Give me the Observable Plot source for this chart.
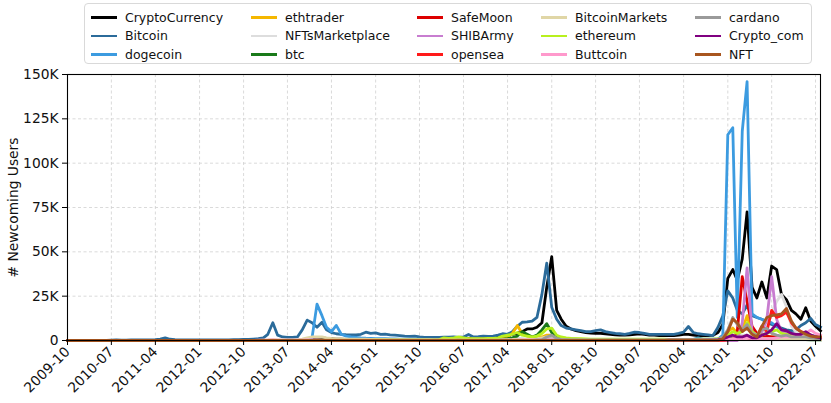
<!DOCTYPE html>
<html>
<head>
<meta charset="utf-8">
<script src="https://cdn.jsdelivr.net/npm/d3@7"></script>
<script src="https://cdn.jsdelivr.net/npm/@observablehq/plot@0.6"></script>
<style>
  html, body { margin: 0; padding: 0; background: #fff; }
  #wrap { position: relative; width: 831px; height: 403px; font-family: "DejaVu Sans", sans-serif; }
  #legend {
    position: absolute; left: 84px; top: 3px; width: 728px; height: 61px;
    box-sizing: border-box; border: 1px solid #d9d9d9; border-radius: 4px;
    background: rgba(255,255,255,0.85);
    display: grid; grid-template-columns: 160px 166px 124px 154px auto;
    grid-template-rows: 18.5px 18.5px 18.5px; grid-auto-flow: column;
    padding: 4px 0 0 6px; font-size: 12.5px; color: #111; z-index: 2;
  }
  .item { display: flex; align-items: center; white-space: nowrap; }
  .sw { width: 26px; height: 2.5px; margin-right: 8px; flex: none; }
</style>
</head>
<body>
<div id="wrap"><div id="legend"></div></div>
<script>
// ---- Data (values in thousands of newcoming users, monthly) ----
const seriesNames = ["CryptoCurrency","Bitcoin","dogecoin","ethtrader","NFTsMarketplace","btc","SafeMoon","SHIBArmy","opensea","BitcoinMarkets","ethereum","Buttcoin","cardano","Crypto_com","NFT"];
const seriesColors = ["#000000","#2b6b9a","#3c9be0","#f5b700","#dddddd","#1a7a1a","#dd0000","#c87dd0","#ff1a1a","#e0d6a6","#b8f01e","#ff99cc","#9a9a9a","#800080","#a8561f"];
const firstMonth = "2009-10";
const lastMonth = "2022-08";
const xTickLabels = ["2009-10","2010-07","2011-04","2012-01","2012-10","2013-07","2014-04","2015-01","2015-10","2016-07","2017-04","2018-01","2018-10","2019-07","2020-04","2021-01","2021-10","2022-07"];
const yTicks = [0,25,50,75,100,125,150];

const startCryptoCurrency = "2013-01";
const valCryptoCurrency = [
 0,0,0,0,0,0,0,0,0,0.3,0.8,1.0,
 1.5,1.5,1.2,1.0,0.8,0.7,0.6,0.6,0.6,0.6,0.6,0.6,
 0.6,0.6,0.6,0.6,0.6,0.6,0.6,0.6,0.6,0.6,0.6,0.7,
 0.8,0.8,0.9,1.0,1.0,1.0,1.2,1.2,1.2,1.3,1.5,1.8,
 2.0,2.2,2.5,2.5,3.5,4,5,6.5,6.5,7.5,10,30,
 47.3,17,12,8,6.5,5.5,5,4.5,4.2,4,4,3.8,
 3.5,3.2,3,3,3.2,3.5,3.8,3.5,3,3,2.8,2.8,
 2.8,2.8,3.0,3.5,3.5,3.0,2.8,2.8,2.8,3,4.5,9,
 35,40,34,46,72.5,30,24,33,24,42,40,26,
 23,17,15,12,18.5,11,8,5.5];

const startBitcoin = "2009-10";
const valBitcoin = [
 0,0,0,
 0.05,0.05,0.05,0.05,0.1,0.1,0.2,0.3,0.2,0.2,0.3,0.3,
 0.3,0.3,0.4,0.5,0.8,1.5,0.7,0.5,0.4,0.3,0.3,0.3,
 0.3,0.3,0.3,0.4,0.4,0.4,0.4,0.5,0.5,0.6,0.6,0.8,
 1.0,1.5,3.5,10,3,2,1.8,1.8,2.0,6,11.5,10,
 7.5,10.3,6,4.5,3.8,3.5,3.3,3.2,3.2,3.5,4.7,4.0,
 4.3,3.5,3.6,3.2,3.0,2.8,2.5,2.3,2.5,2.0,1.8,1.8,
 1.8,1.8,1.9,1.9,2.0,1.8,2.0,3.4,2.0,2.2,2.5,2.3,
 2.5,3.0,3.8,3.5,5,8,10.3,10.5,10.9,13,26,43.6,
 18.8,12,8.4,7,6.5,6,5.5,5,5,5.5,6,5,
 4.5,4,3.8,3.5,4.0,4.7,4.5,4,3.5,3.5,3.5,3.5,
 3.5,3.5,4.0,4.7,7.9,4.5,3.8,3.5,3.2,2.8,7.5,14,
 28,24,17,15,20,14,13,12,10,9,8,7,
 6,5.5,6,8.5,10,12.5,9,7.5];

const startDogecoin = "2013-12";
const valDogecoin = [
 1.5,
 20.5,14,7.5,5,8.5,3.5,2.5,2,1.8,1.5,1.3,1.2,
 1.1,1.0,1.0,0.9,0.9,0.8,0.8,0.7,0.7,0.7,0.6,0.6,
 0.6,0.6,0.5,0.5,0.5,0.5,0.5,0.5,0.5,0.5,0.5,0.5,
 0.5,0.5,0.5,0.5,0.6,0.8,0.7,0.6,0.6,0.6,0.8,1.5,
 2,1,0.8,0.6,0.5,0.5,0.5,0.5,0.5,0.5,0.5,0.5,
 0.5,0.5,0.5,0.5,0.5,0.5,0.5,0.5,0.5,0.5,0.5,0.5,
 0.5,0.5,0.5,0.5,0.6,0.6,1.5,0.8,0.7,0.7,0.8,3,
 116,120,13,118,146,15,13,12,11,10,8,6,
 5,4,3.5,4,4.5,3,2.5,2];

const startEthtrader = "2016-02";
const valEthtrader = [
 0.3,0.5,0.5,0.5,0.7,0.8,1.0,0.8,0.8,0.8,0.8,
 0.8,1.0,1.5,2.0,4,8.5,4,2.5,2,2,2,3,
 3,1.5,1.0,0.8,0.7,0.6,0.5,0.5,0.4,0.4,0.4,0.4,
 0.3,0.3,0.3,0.3,0.3,0.3,0.3,0.3,0.3,0.3,0.3,0.3,
 0.3,0.3,0.3,0.3,0.3,0.3,0.3,0.4,0.4,0.4,0.5,1,
 5,7,4,6,14,4,2,2,2,2,2,1.5,
 1.2,1,1,1,1,0.8,0.6,0.5];

const startNFTsMarketplace = "2021-01";
const valNFTsMarketplace = [
 0.5,1,2,3,3,2,2,3,8,16,22,26,
 19,8,5,4,3,2,2,1];

const startBtc = "2015-01";
const valBtc = [
 0.2,0.2,0.2,0.2,0.2,0.2,0.2,0.2,0.2,0.2,0.2,0.2,
 0.3,0.3,0.3,0.3,0.3,0.3,0.3,0.3,0.3,0.3,0.3,0.3,
 0.5,0.5,0.8,1.0,1.5,2.5,5,3.5,2,3,6,9.5,
 4.5,2,1.2,1,0.8,0.7,0.6,0.5,0.5,0.5,0.5,0.5,
 0.4,0.4,0.4,0.4,0.4,0.4,0.4,0.4,0.4,0.4,0.4,0.4,
 0.4,0.4,0.4,0.4,0.4,0.4,0.4,0.4,0.4,0.4,0.6,1,
 1.5,2,1.5,1.5,2,1,0.8,0.8,0.8,0.8,0.7,0.6,
 0.5,0.5,0.5,0.5,0.5,0.4,0.4,0.4];

const startSafeMoon = "2021-03";
const valSafeMoon = [
 5,36,22,8,4,3,2.5,2,2,1.5,
 1.2,1,1,0.8,0.8,0.6,0.5,0.5];

const startSHIBArmy = "2021-04";
const valSHIBArmy = [
 10,41,5,3,5,12,36,12,5,
 4,3,3,2.5,3,2,1.5,1.2];

const startOpensea = "2021-01";
const valOpensea = [
 0.3,0.8,1.5,1.5,1.5,1,2,8,5,17,13,14,
 16,10,7,5,4,3,2,2];

const startBitcoinMarkets = "2012-01";
const valBitcoinMarkets = [
 0.1,0.1,0.1,0.1,0.1,0.1,0.1,0.1,0.1,0.1,0.1,0.1,
 0.1,0.2,0.3,0.5,0.3,0.3,0.3,0.3,0.4,0.8,1.5,2,
 2,2,1.5,1.2,1,0.9,0.8,0.7,0.7,0.7,0.7,0.6,
 0.6,0.6,0.6,0.5,0.5,0.5,0.5,0.5,0.5,0.5,0.5,0.5,
 0.4,0.4,0.4,0.4,0.4,0.4,0.4,0.4,0.4,0.4,0.4,0.4,
 0.4,0.4,0.5,0.5,0.6,0.8,0.8,0.8,0.8,1,1.5,2,
 2.5,1,0.8,0.6,0.5,0.5,0.5,0.4,0.4,0.4,0.4,0.4,
 0.3,0.3,0.3,0.3,0.3,0.3,0.3,0.3,0.3,0.3,0.3,0.3,
 0.3,0.3,0.3,0.3,0.3,0.3,0.3,0.3,0.3,0.3,0.5,1,
 2,3,2,2,3,1.5,1,1,1,1,1,1,
 0.8,0.7,0.7,0.7,0.7,0.6,0.5,0.5];

const startEthereum = "2014-01";
const valEthereum = [
 0.2,0.2,0.2,0.2,0.2,0.2,0.2,0.2,0.2,0.2,0.2,0.2,
 0.3,0.3,0.3,0.3,0.3,0.3,0.3,0.3,0.3,0.3,0.3,0.3,
 0.4,0.5,1.5,1.2,1.5,2.0,1.5,1.0,1.0,1.0,1.0,1.2,
 1.2,1.5,2.5,3,3.5,4.5,3,2.5,2,2.5,4,6.5,
 7,3,2,1.5,1.2,1,1,0.9,0.8,0.8,0.8,0.7,
 0.7,0.7,0.7,0.7,0.7,0.7,0.7,0.7,0.7,0.7,0.7,0.7,
 0.6,0.6,0.6,0.6,0.6,0.6,0.7,0.8,0.8,0.8,1,1.5,
 3,5,4,5,10,5,3,3,4,5,6,4,
 3.5,3,2.5,2.5,3,2,1.5,1.2];

const startButtcoin = "2013-01";
const valButtcoin = [
 0.2,0.2,0.2,0.3,0.2,0.2,0.2,0.2,0.2,0.2,0.3,0.3,
 0.3,0.2,0.2,0.2,0.2,0.2,0.2,0.2,0.2,0.2,0.2,0.2,
 0.2,0.2,0.2,0.2,0.2,0.2,0.2,0.2,0.2,0.2,0.2,0.2,
 0.2,0.2,0.2,0.2,0.2,0.2,0.2,0.2,0.2,0.2,0.2,0.2,
 0.2,0.2,0.2,0.2,0.2,0.2,0.3,0.3,0.3,0.3,0.4,0.5,
 0.5,0.3,0.3,0.2,0.2,0.2,0.2,0.2,0.2,0.2,0.2,0.2,
 0.2,0.2,0.2,0.2,0.2,0.2,0.2,0.2,0.2,0.2,0.2,0.2,
 0.2,0.2,0.2,0.2,0.2,0.2,0.2,0.2,0.2,0.2,0.3,0.4,
 0.5,1,1,1,1.5,1,1,1,1,1,1.5,2,
 2,2,2,3,4,6,4,3];

const startCardano = "2017-10";
const valCardano = [
 0.3,0.5,2,
 3,1,0.6,0.5,0.4,0.4,0.3,0.3,0.3,0.3,0.3,0.3,
 0.3,0.3,0.3,0.3,0.3,0.3,0.3,0.3,0.3,0.3,0.3,0.3,
 0.3,0.3,0.3,0.3,0.3,0.3,0.3,0.4,0.5,0.5,0.8,2,
 6,13,9,6,9,4,3,6,7,4,3,2.5,
 3,2,2,2,2,1.5,1.2,1];

const startCryptoCom = "2019-01";
const valCryptoCom = [
 0.1,0.1,0.1,0.1,0.1,0.1,0.1,0.1,0.1,0.1,0.1,0.1,
 0.2,0.2,0.2,0.2,0.2,0.2,0.2,0.2,0.2,0.2,0.3,0.8,
 2,3,2,2,3,1.5,1.5,3,4,6,9.5,6,
 5.5,4,3.5,3.5,5,3,2,1.5];

const startNFT = "2020-01";
const valNFT = [
 0.1,0.1,0.1,0.1,0.1,0.1,0.1,0.1,0.1,0.1,0.1,1,
 5,12,10,5,7,3.5,2,8,13,14,14.5,15,
 18,11,7,5,3.5,2.5,2,2];

const seriesStarts = [startCryptoCurrency,startBitcoin,startDogecoin,startEthtrader,startNFTsMarketplace,startBtc,startSafeMoon,startSHIBArmy,startOpensea,startBitcoinMarkets,startEthereum,startButtcoin,startCardano,startCryptoCom,startNFT];
const seriesValues = [valCryptoCurrency,valBitcoin,valDogecoin,valEthtrader,valNFTsMarketplace,valBtc,valSafeMoon,valSHIBArmy,valOpensea,valBitcoinMarkets,valEthereum,valButtcoin,valCardano,valCryptoCom,valNFT];

// ---- Build long table (series sit at zero before their first recorded month) ----
const parseMonth = d3.utcParse("%Y-%m");
const allMonths = d3.utcMonth.range(parseMonth(firstMonth), d3.utcMonth.offset(parseMonth(lastMonth), 1));
const rows = [];
seriesNames.forEach((name, i) => {
  const s = parseMonth(seriesStarts[i]);
  const vals = seriesValues[i];
  allMonths.forEach(date => {
    const k = d3.utcMonth.count(s, date);
    const v = (date < s) ? 0 : (k < vals.length ? vals[k] : null);
    if (v !== null) rows.push({series: name, date, value: v});
  });
});

const chart = Plot.plot({
  width: 831,
  height: 403,
  marginLeft: 67,
  marginRight: 11,
  marginTop: 74,
  marginBottom: 63,
  style: {fontFamily: "DejaVu Sans, sans-serif", fontSize: "13.8px", color: "#111", background: "#fff"},
  x: {type: "utc", domain: [parseMonth(firstMonth), parseMonth(lastMonth)]},
  y: {domain: [0, 150]},
  color: {domain: seriesNames, range: seriesColors},
  marks: [
    Plot.gridX(xTickLabels.map(parseMonth), {stroke: "#d0d0d0", strokeOpacity: 1, strokeDasharray: "3,2.5", strokeWidth: 0.8}),
    Plot.gridY(yTicks, {stroke: "#d0d0d0", strokeOpacity: 1, strokeDasharray: "3,2.5", strokeWidth: 0.8}),
    Plot.line(rows, {x: "date", y: "value", z: "series", stroke: "series", strokeWidth: 2.8, strokeLinejoin: "round", strokeLinecap: "square"}),
    Plot.frame({stroke: "#000", strokeWidth: 1.1}),
    Plot.axisX(xTickLabels.map(parseMonth), {tickFormat: d3.utcFormat("%Y-%m"), tickRotate: -45, tickSize: 5, tickPadding: 4, label: null, stroke: "#000", fontSize: "13.8px"}),
    Plot.axisY(yTicks, {tickFormat: d => d === 0 ? "0" : d + "K", tickSize: 5, tickPadding: 4, label: "# Newcoming Users", labelAnchor: "center", labelArrow: "none", labelOffset: 59, stroke: "#000", fontSize: "13.8px"})
  ]
});
document.getElementById("wrap").appendChild(chart);

// ---- Legend (HTML, overlaid at the top) ----
const legend = d3.select("#legend");
seriesNames.forEach((name, i) => {
  const it = legend.append("div").attr("class", "item");
  it.append("span").attr("class", "sw").style("background", seriesColors[i]);
  it.append("span").text(name);
});
</script>
</body>
</html>
